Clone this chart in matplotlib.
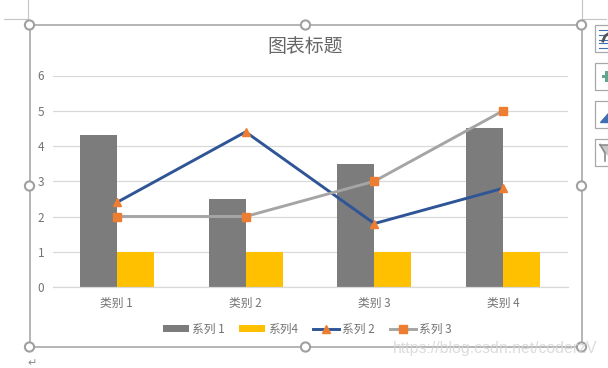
# -*- coding: utf-8 -*-
import matplotlib
matplotlib.use("Agg")
import matplotlib.pyplot as plt
from matplotlib.patches import Circle, Rectangle

plt.rcParams["font.family"] = ["Noto Sans CJK SC", "DejaVu Sans"]

W, H = 608, 368

categories = ["类别 1", "类别 2", "类别 3", "类别 4"]
series1 = [4.3, 2.5, 3.5, 4.5]
series4 = [1, 1, 1, 1]
series2 = [2.4, 4.4, 1.8, 2.8]
series3 = [2, 2, 3, 5]
y_ticks = [0, 1, 2, 3, 4, 5, 6]

GREY_TXT = "#737373"
GRID = "#d9d9d9"
FRAME = "#a0a0a0"

fig = plt.figure(figsize=(W / 100, H / 100), dpi=100, facecolor="white")

# overlay in pixel coords for the editor frame, handles and side buttons
bg = fig.add_axes([0, 0, 1, 1])
bg.set_xlim(0, W)
bg.set_ylim(H, 0)
bg.axis("off")

bg.add_patch(Rectangle((29.5, 25), 552, 322, fill=False, ec=FRAME, lw=1.1))
for hx in (29.5, 305.5, 581.5):
    for hy in (25, 186, 347):
        if hx == 305.5 and hy == 186:
            continue
        bg.add_patch(Circle((hx, hy), 4.6, fc="white", ec=FRAME, lw=1.5, zorder=5))

# crop marks at the page corner
bg.plot([27.5, 27.5], [0, 19], color="#c4c4c4", lw=0.8)
bg.plot([4, 27.5], [19, 19], color="#c4c4c4", lw=0.8)
bg.plot([582, 582], [0, 19], color="#c4c4c4", lw=0.8)
bg.plot([582, 606], [19, 19], color="#c4c4c4", lw=0.8)

# side buttons
for by in (24.5, 62.5, 100.5, 138.5):
    bg.add_patch(Rectangle((595, by), 16, 27, fc="white", ec="#a8a8a8", lw=0.9))
for ly in (30, 35, 40, 43, 48):
    bg.plot([599, 608], [ly, ly], color="#3f6fb5", lw=0.8)
bg.plot([603, 605, 608], [41, 36, 34], color="#555555", lw=2)
bg.add_patch(Rectangle((602, 74.5), 6, 3.5, fc="#5fa58f", ec="none"))
bg.add_patch(Rectangle((605, 70.5), 3, 11, fc="#5fa58f", ec="none"))
bg.fill([600, 608, 608], [122, 122, 113], color="#3f6fb5")
bg.plot([600, 608], [144.5, 144.5], color="#8a8a8a", lw=1.1)
bg.plot([600, 605, 605], [144.5, 153, 161], color="#8a8a8a", lw=1.2)
bg.fill([602, 608, 608, 605], [145.5, 145.5, 155, 152], color="#c8c8c8")

bg.text(32, 363, "↵", fontsize=8, color="#888888", ha="center", va="center",
        family=["DejaVu Sans"])

# chart proper
ax = fig.add_axes([52.5 / W, 1 - 287 / H, (567.5 - 52.5) / W, (287 - 75.5) / H])
ax.patch.set_alpha(0)
xs = list(range(len(categories)))
bar_w = 37 / 128.75

b1 = ax.bar([x - bar_w / 2 for x in xs], series1, bar_w, color="#7c7c7c", label="系列 1", zorder=2)
b4 = ax.bar([x + bar_w / 2 for x in xs], series4, bar_w, color="#ffc000", label="系列4", zorder=2)
l2, = ax.plot(xs, series2, color="#2f5597", lw=2.1, marker="^", ms=6,
              mfc="#ed7d31", mec="#ed7d31", label="系列 2", zorder=3, clip_on=False)
l3, = ax.plot(xs, series3, color="#a5a5a5", lw=2.1, marker="s", ms=5.2,
              mfc="#ed7d31", mec="#ed7d31", label="系列 3", zorder=3, clip_on=False)

ax.set_xlim(-0.5, 3.5)
ax.set_ylim(0, 6)
ax.set_xticks(xs)
ax.set_xticklabels(categories)
ax.set_yticks(y_ticks)
ax.tick_params(axis="both", length=0, labelsize=8.5, labelcolor=GREY_TXT)
ax.tick_params(axis="x", pad=7.5)
ax.tick_params(axis="y", pad=6)
ax.grid(axis="y", color=GRID, lw=0.9, zorder=0)
ax.set_axisbelow(True)
for side in ("top", "right", "left"):
    ax.spines[side].set_visible(False)
ax.spines["bottom"].set_color(GRID)
ax.spines["bottom"].set_linewidth(0.9)

bg.text(305.5, 46, "图表标题", fontsize=13.6, color="#666666", ha="center", va="center")

fig.legend(handles=[b1, b4, l2, l3], loc="center", bbox_to_anchor=(307 / W, 1 - 329 / H),
           ncol=4, frameon=False, fontsize=8.5, labelcolor=GREY_TXT, handlelength=2.2,
           handleheight=0.5, handletextpad=0.25, columnspacing=1.27)

# watermark
fig.text(597 / W, 1 - 349 / H, "https://blog.csdn.net/coderzV", fontsize=11.4, color="#d4d4d4",
         alpha=0.8, ha="right", va="center", family=["Liberation Sans"], zorder=10)

fig.savefig("out.png", dpi=100)
